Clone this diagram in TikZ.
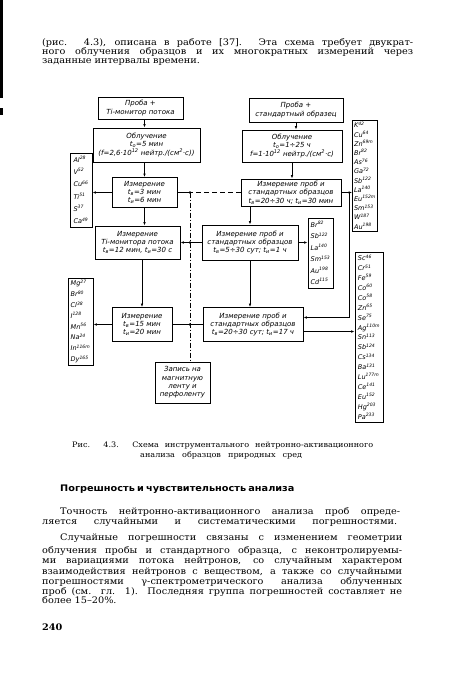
\documentclass[tikz,border=0pt]{standalone}
\usepackage{fontspec}
\setmainfont{DejaVu Serif}
\setsansfont{DejaVu Sans}
\usepackage{graphicx}
\usetikzlibrary{arrows.meta, positioning}

\newcommand\bodyf{\fontsize{9}{10}\selectfont}
\newcommand\capf{\fontsize{7.5}{9}\selectfont}
\newcommand\blkf{\fontsize{7}{8.4}\selectfont\sffamily\itshape}
\newcommand\isof[1]{\fontsize{6.5}{#1}\selectfont\sffamily\itshape}
\newcommand\jline[2]{\scalebox{1.08}[1]{\makebox[\dimexpr #1pt*100/108\relax][s]{#2}}}
\newcommand\natline[1]{\scalebox{1.08}[1]{#1}}
\newcommand\nuc[2]{#1\textsuperscript{#2}}
\newcommand\tsub[1]{t\textsubscript{#1}}

\begin{document}
\begin{tikzpicture}[x=1pt, y=-1pt,
    blk/.style={draw, line width=0.8pt, font=\blkf, align=center, inner sep=1pt},
    nuclist/.style={draw, line width=0.8pt, align=left, inner sep=1.5pt},
    arr/.style={-{Latex[length=3.5pt,width=2.6pt]}, line width=0.8pt},
    link/.style={line width=0.8pt},
    busline/.style={line width=0.8pt, dash pattern=on 5pt off 2pt on 1pt off 2pt},
    feed/.style={line width=0.8pt, dash pattern=on 5pt off 3pt},
    txt/.style={anchor=base west, inner sep=0pt, font=\bodyf}
]
\useasboundingbox (0,0) rectangle (450,675);
\fill[white] (0,0) rectangle (450,675);

% edge of the scanned page
\fill (0,0) rectangle (2.5,98);
\fill (0,108) rectangle (2.5,115);

% text above the figure
\node[txt] (top1) at (42,45.5) {\jline{371}{(рис. 4.3), описана в работе [37]. Эта схема требует двукрат-}};
\node[txt] (top2) at (42,54.5) {\jline{371}{ного облучения образцов и их многократных измерений через}};
\node[txt] (top3) at (42,63.5) {\natline{заданные интервалы времени.}};

% left column
\node[blk, minimum width=85pt, minimum height=22pt] (b1) at (140.5,108) {Проба +\\Ti-монитор потока};
\node[blk, minimum width=107pt, minimum height=34pt] (b2) at (146.5,145) {Облучение\\\tsub{о}=5 мин\\(f=2,6·10\textsuperscript{12} нейтр./(см\textsuperscript{2}·с))};
\node[blk, minimum width=65pt, minimum height=30pt] (b3) at (144.5,192.5) {Измерение\\\tsub{в}=3 мин\\\tsub{и}=6 мин};
\node[blk, minimum width=85pt, minimum height=33pt] (b4) at (137.5,242.5) {Измерение\\Ti-монитора потока\\\tsub{в}=12 мин, \tsub{и}=30 с};
\node[blk, minimum width=60pt, minimum height=34pt] (b5) at (142,324.5) {Измерение\\\tsub{в}=15 мин\\\tsub{и}=20 мин};

% right column
\node[blk, minimum width=94pt, minimum height=24pt] (b6) at (296,110) {Проба +\\стандартный образец};
\node[blk, minimum width=100pt, minimum height=32pt] (b7) at (292,146) {Облучение\\\tsub{о}=1÷25 ч\\f=1·10\textsuperscript{12} нейтр./(см\textsuperscript{2}·с)};
\node[blk, minimum width=100pt, minimum height=27pt] (b8) at (291,192.5) {Измерение проб и\\стандартных образцов\\\tsub{в}=20÷30 ч; \tsub{и}=30 мин};
\node[blk, minimum width=96pt, minimum height=35pt] (b9) at (250,242.5) {Измерение проб и\\стандартных образцов\\\tsub{в}=5÷30 сут; \tsub{и}=1 ч};
\node[blk, minimum width=100pt, minimum height=34pt] (b10) at (253,324.5) {Измерение проб и\\стандартных образцов\\\tsub{в}=20÷30 сут; \tsub{и}=17 ч};

\node[blk, minimum width=55pt, minimum height=41pt] (b11) at (182.5,382.5) {Запись на\\магнитную\\ленту и\\перфоленту};

% nuclide lists
\node[nuclist, font=\isof{12.3}, minimum width=22pt, minimum height=74pt] (L1) at (81,190)
  {\nuc{Al}{28}\\\nuc{V}{52}\\\nuc{Cu}{66}\\\nuc{Ti}{51}\\\nuc{S}{37}\\\nuc{Ca}{49}};
\node[nuclist, font=\isof{10.8}, minimum width=25pt, minimum height=87pt] (L2) at (80.5,321.5)
  {\nuc{Mg}{27}\\\nuc{Br}{80}\\\nuc{Cl}{38}\\\nuc{I}{128}\\\nuc{Mn}{56}\\\nuc{Na}{24}\\\nuc{In}{116m}\\\nuc{Dy}{165}};
\node[nuclist, font=\isof{9.2}, minimum width=22pt, minimum height=111pt] (R1) at (365,175.5)
  {\nuc{K}{42}\\\nuc{Cu}{64}\\\nuc{Zn}{69m}\\\nuc{Br}{82}\\\nuc{As}{76}\\\nuc{Ga}{72}\\\nuc{Sb}{122}\\\nuc{La}{140}\\\nuc{Eu}{152m}\\\nuc{Sm}{153}\\\nuc{W}{187}\\\nuc{Au}{198}};
\node[nuclist, font=\isof{11.4}, minimum width=25pt, minimum height=70pt] (M) at (320.5,253)
  {\nuc{Br}{82}\\\nuc{Sb}{122}\\\nuc{La}{140}\\\nuc{Sm}{153}\\\nuc{Au}{198}\\\nuc{Cd}{115}};
\node[nuclist, font=\isof{9.9}, minimum width=28pt, minimum height=170pt] (R2) at (369,337)
  {\nuc{Sc}{46}\\\nuc{Cr}{51}\\\nuc{Fe}{59}\\\nuc{Co}{60}\\\nuc{Co}{58}\\\nuc{Zn}{65}\\\nuc{Se}{75}\\\nuc{Ag}{110m}\\\nuc{Sn}{113}\\\nuc{Sb}{124}\\\nuc{Cs}{134}\\\nuc{Ba}{131}\\\nuc{Lu}{177m}\\\nuc{Ce}{141}\\\nuc{Eu}{152}\\\nuc{Hg}{203}\\\nuc{Pa}{233}};

% main flow
\draw[arr] ([xshift=4pt]b1.south) -- ([xshift=4pt]b1.south |- b2.north);
\draw[arr] (b3.north |- b2.south) -- (b3.north);
\draw[arr] (b3.south) -- (b3.south |- b4.north);
\draw[arr] (b5.north |- b4.south) -- (b5.north);
\draw[arr] (b6.south) -- (b6.south |- b7.north);
\draw[arr] (b7.south) -- (b7.south |- b8.north);
\draw[arr] (b9.north |- b8.south) -- (b9.north);
\draw[arr] (b9.south) -- (b9.south |- b10.north);

% to the nuclide lists
\draw[arr] (b3.west) -- (b3.west -| L1.east);
\draw[arr] (b5.west) -- (b5.west -| L2.east);
\draw[arr] (b8.east) -- (b8.east -| R1.west);
\draw[arr] (b9.east) -- (b9.east -| M.west);
\draw[arr] ([yshift=-7pt]b10.east) -- ([yshift=-7pt]b10.east -| R2.west);
\coordinate (br) at ([xshift=8pt]b8.east);
\draw[arr] (br) |- ([yshift=7pt]b10.east);

% data to the recorder
\coordinate (bus) at (190,192.5);
\draw[link] (b3.east) -- (b3.east -| bus);
\draw[feed] (b8.west) -- (b8.west -| bus);
\draw[busline] (bus) -- (bus |- b11.north);
\draw[arr] (b9.west) -- (b4.east);
\draw[link] (b5.east) -- (b10.west);
\fill (bus) circle (1.3pt);
\fill (b4.east -| bus) circle (1.3pt);
\fill (b5.east -| bus) circle (1.3pt);

% caption
\node[txt, font=\capf] (cap1) at (72,447.5) {\jline{301}{Рис. 4.3. Схема инструментального нейтронно-активационного}};
\node[txt, font=\capf] (cap2) at (140,457.5) {\jline{162}{анализа образцов природных сред}};

% section text
\node[txt, font=\fontsize{9}{11}\selectfont\sffamily\bfseries] (head) at (60,491) {\jline{223}{Погрешность и чувствительность анализа}};
\node[txt] (t1) at (60,514.5) {\jline{340}{Точность нейтронно-активационного анализа проб опреде-}};
\node[txt] (t2) at (42,524.5) {\jline{355}{ляется случайными и систематическими погрешностями.}};
\node[txt] (t3) at (60,540) {\jline{342}{Случайные погрешности связаны с изменением геометрии}};
\node[txt] (t4) at (42,553) {\jline{360}{облучения пробы и стандартного образца, с неконтролируемы-}};
\node[txt] (t5) at (42,563.5) {\jline{360}{ми вариациями потока нейтронов, со случайным характером}};
\node[txt] (t6) at (42,574.5) {\jline{360}{взаимодействия нейтронов с веществом, а также со случайными}};
\node[txt] (t7) at (42,584.5) {\jline{360}{погрешностями γ-спектрометрического анализа облученных}};
\node[txt] (t8) at (42,594.5) {\jline{360}{проб (см. гл. 1). Последняя группа погрешностей составляет не}};
\node[txt] (t9) at (42,603.5) {\natline{более 15–20\%.}};
\node[txt, font=\bodyf\bfseries] (pg) at (42,630) {\natline{240}};
\end{tikzpicture}
\end{document}
